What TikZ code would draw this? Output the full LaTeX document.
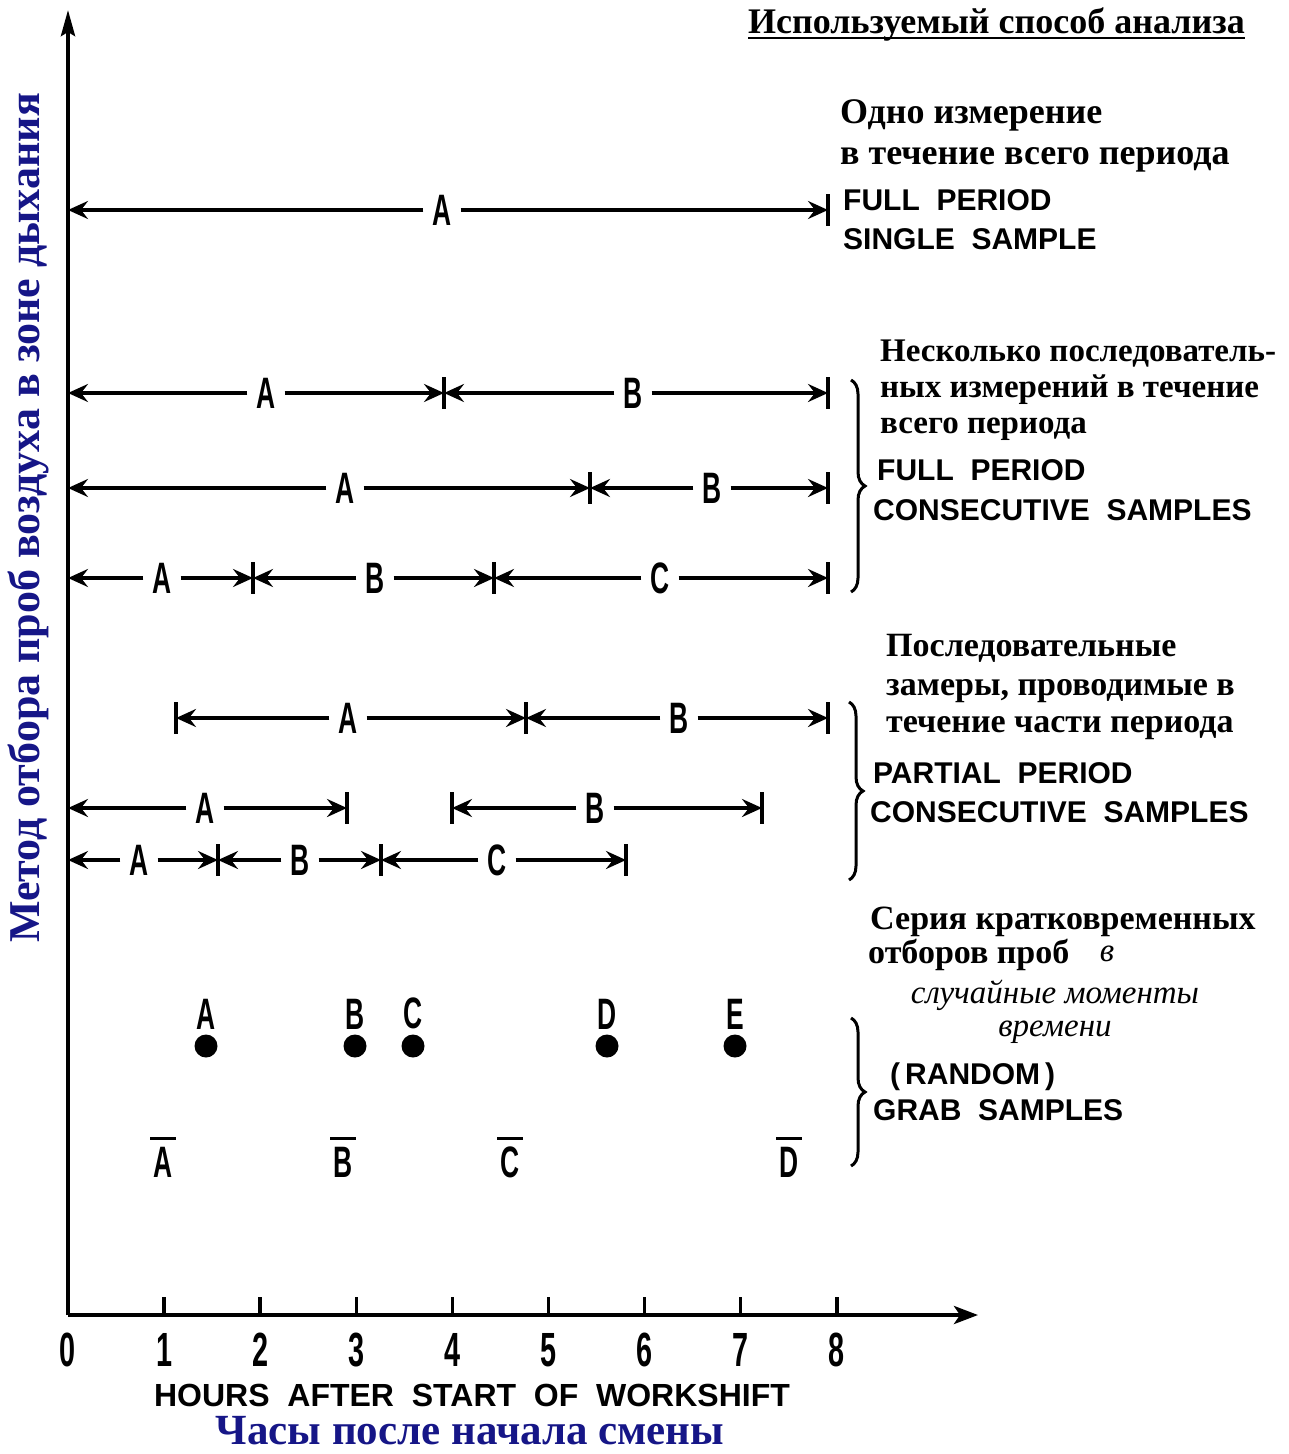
\documentclass[tikz,border=0pt]{standalone}
\usepackage{fontspec}
\setmainfont{Liberation Serif}
\newfontfamily\lsans{Liberation Sans}
\newfontfamily\cond[FakeStretch=0.6]{Liberation Sans}
\usetikzlibrary{arrows.meta,decorations.pathreplacing}
\definecolor{rublue}{RGB}{22,22,135}
\tikzset{
  darr/.style={line width=3.5pt,-{Stealth[length=20pt,width=18pt,inset=7pt]}},
  lab/.style={font=\cond\bfseries\fontsize{44}{44}\selectfont,inner sep=9pt},
  ticklab/.style={font=\cond\bfseries\fontsize{48}{48}\selectfont,inner sep=0pt},
  rus/.style={font=\bfseries\fontsize{34}{34}\selectfont,inner sep=0pt,anchor=base west},
  russm/.style={rus,font=\bfseries\fontsize{33}{33}\selectfont},
  rusbig/.style={rus,font=\bfseries\fontsize{36}{36}\selectfont},
  rusit/.style={font=\itshape\fontsize{33}{33}\selectfont,inner sep=0pt,anchor=base},
  eng/.style={font=\lsans\bfseries\fontsize{30}{30}\selectfont,inner sep=0pt,anchor=base west},
  barline/.style={line width=3.5pt},
  dot/.style={circle,fill=black,inner sep=0pt,minimum size=23pt},
  bracedeco/.style={decorate,decoration={brace,amplitude=14pt},line width=3pt}
}
\newcommand\dseg[6]{% name, x1, x2, y, label x, label
  \coordinate (#1s) at (#2,#4);
  \coordinate (#1e) at (#3,#4);
  \node[lab] (#1) at (#5,#4) {#6};
  \draw[darr] (#1.west) -- (#1s);
  \draw[darr] (#1.east) -- (#1e);}
\newcommand\tbar[1]{\draw[barline] ([yshift=16pt]#1) -- ([yshift=-16pt]#1);}
\begin{document}
\begin{tikzpicture}[x=1pt,y=-1pt]
\useasboundingbox (0,0) rectangle (1289,1454);
% axes
\coordinate (O) at (68,1315);
\coordinate (ytop) at (68,10);
\coordinate (xend) at (978,1315);
\draw[line width=4pt,-{Stealth[length=26pt,width=14pt,inset=4pt]}] (O) -- (ytop);
\draw[line width=4pt,-{Stealth[length=24pt,width=18pt,inset=6pt]}] (O) -- (xend);
\foreach \h in {0,...,8}{
  \coordinate (t\h) at ({68+96.1*\h},1315);
  \node[ticklab] (tl\h) at ({68+96.1*\h},1350) {\h};
}
\foreach \h in {1,...,8}{\draw[line width=3.5pt] (t\h) -- ++(0,-18);}
\node[font=\lsans\bfseries\fontsize{32}{32}\selectfont,inner sep=0pt] (hours) at (472,1395) {HOURS\ \ AFTER\ \ START\ \ OF\ \ WORKSHIFT};
\node[font=\bfseries\fontsize{43}{43}\selectfont,text=rublue,inner sep=0pt] (chasy) at (470,1431) {Часы после начала смены};
\node[font=\bfseries\fontsize{44}{44}\selectfont,text=rublue,inner sep=0pt,rotate=90] (metod) at (28,518) {Метод отбора проб воздуха в зоне дыхания};
% title
\node[rusbig] (title) at (748,33) {Используемый способ анализа};
\draw[line width=2pt] ([yshift=-5pt]title.base west) -- ([yshift=-5pt]title.base east);
% row 1
\dseg{ra}{68}{828}{210}{442}{A}
\tbar{rae}
% row 2
\dseg{rba}{68}{444}{393}{266}{A}
\dseg{rbb}{444}{828}{393}{633}{B}
\tbar{rbae}\tbar{rbbe}
% row 3
\dseg{rca}{68}{590}{488}{345}{A}
\dseg{rcb}{590}{828}{488}{712}{B}
\tbar{rcae}\tbar{rcbe}
% row 4
\dseg{rda}{68}{253}{578}{162}{A}
\dseg{rdb}{253}{494}{578}{375}{B}
\dseg{rdc}{494}{828}{578}{660}{C}
\tbar{rdae}\tbar{rdbe}\tbar{rdce}
% row 5
\dseg{rea}{176}{526}{718}{348}{A}
\dseg{reb}{526}{828}{718}{679}{B}
\tbar{reas}\tbar{reae}\tbar{rebe}
% row 6
\dseg{rfa}{68}{347}{808}{205}{A}
\dseg{rfb}{452}{762}{808}{595}{B}
\tbar{rfae}\tbar{rfbs}\tbar{rfbe}
% row 7
\dseg{rga}{68}{218}{860}{139}{A}
\dseg{rgb}{218}{381}{860}{300}{B}
\dseg{rgc}{381}{626}{860}{497}{C}
\tbar{rgae}\tbar{rgbe}\tbar{rgce}
% dots
\foreach \n/\x/\l in {dA/206/A,dB/355/B,dC/413/C,dD/607/D,dE/735/E}{
  \node[dot] (\n) at (\x,1046) {};
  \node[lab,inner sep=0pt,anchor=south] (\n l) at ([yshift=5pt]\n.north) {\l};
}
% overlined letters
\foreach \n/\x/\l in {gA/163/A,gB/343/B,gC/510/C,gD/789/D}{
  \node[lab,inner sep=0pt] (\n) at (\x,1162) {\l};
  \draw[line width=3pt] ([yshift=8pt,xshift=-3pt]\n.north west) -- ([yshift=8pt,xshift=3pt]\n.north east);
}
% block 1
\node[rusbig] (b1a) at (840,123) {Одно измерение};
\node[rusbig] (b1b) at (840,164) {в течение всего периода};
\node[eng] (b1c) at (843,210) {FULL\ \ PERIOD};
\node[eng] (b1d) at (843,249) {SINGLE\ \ SAMPLE};
% block 2
\node[russm] (b2a) at (880,361) {Несколько последователь-};
\node[russm] (b2b) at (880,397) {ных измерений в течение};
\node[russm] (b2c) at (880,433) {всего периода};
\node[eng] (b2d) at (877,480) {FULL\ \ PERIOD};
\node[eng] (b2e) at (873,520) {CONSECUTIVE\ \ SAMPLES};
\coordinate (br2t) at (851,380);
\coordinate (br2b) at (851,592);
\draw[bracedeco] (br2t) -- (br2b);
% block 3
\node[rus] (b3a) at (886,656) {Последовательные};
\node[rus] (b3b) at (886,695) {замеры, проводимые в};
\node[rus] (b3c) at (886,732) {течение части периода};
\node[eng] (b3d) at (873,783) {PARTIAL\ \ PERIOD};
\node[eng] (b3e) at (870,822) {CONSECUTIVE\ \ SAMPLES};
\coordinate (br3t) at (849,702);
\coordinate (br3b) at (849,880);
\draw[bracedeco] (br3t) -- (br3b);
% block 4
\node[rus] (b4a) at (870,929) {Серия кратковременных};
\node[rus] (b4b) at (868,963) {отборов проб};
\node[rusit] (b4c) at (1107,961) {в};
\node[rusit,anchor=center,align=center] (b4d) at (1055,1012) {случайные моменты\\времени};
\node[eng] (b4f) at (890,1084) {(\,RANDOM\,)};
\node[eng] (b4g) at (873,1120) {GRAB\ \ SAMPLES};
\coordinate (br4t) at (851,1018);
\coordinate (br4b) at (851,1166);
\draw[bracedeco] (br4t) -- (br4b);
\end{tikzpicture}
\end{document}
